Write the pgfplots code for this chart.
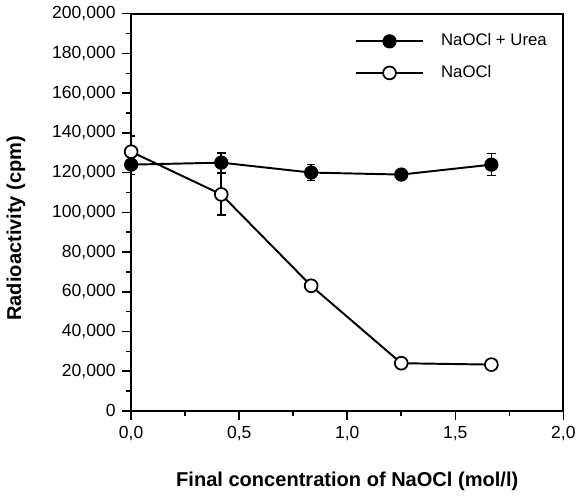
\documentclass[border=0pt]{standalone}
\usepackage{pgfplots}
\pgfplotsset{compat=1.18}
\usepackage{fontspec}
\setmainfont{Liberation Sans}

\begin{document}
\begin{tikzpicture}
\begin{axis}[
    scale only axis,
    width=222pt, height=204pt,
    xmin=0, xmax=2, ymin=0, ymax=200000,
    xtick={0,0.5,1,1.5,2},
    ytick={0,20000,...,200000},
    minor x tick num=1, minor y tick num=1,
    xtick pos=bottom, ytick pos=left,
    tick align=outside,
    major tick length=4.5pt, minor tick length=2.5pt,
    scaled y ticks=false,
    axis line style={line width=1pt},
    every tick/.style={line width=0.8pt, black},
    tick label style={font=\fontsize{9}{10}\selectfont},
    /pgf/number format/assume math mode=true,
    xticklabel style={/pgf/number format/.cd, fixed, fixed zerofill, precision=1, use comma},
    yticklabel style={/pgf/number format/.cd, fixed, precision=0, 1000 sep={,}},
    xlabel={\bfseries Final concentration of NaOCl (mol/l)},
    ylabel={\bfseries Radioactivity (cpm)},
    label style={font=\fontsize{10.3}{12}\selectfont},
    xlabel style={at={(ticklabel cs:0.5)}},
    xlabel shift=9pt,
    ylabel style={at={(ticklabel cs:0.46)}},
    ylabel shift=7pt,
    legend style={draw=none, fill=none, at={(0.985,0.97)}, anchor=north east,
        font=\fontsize{8.6}{10}\selectfont, row sep=4.5pt,
        /tikz/every odd column/.append style={column sep=7pt}},
    legend cell align=left,
    legend image code/.code={
        \draw[#1, line width=1pt, mark repeat=2, mark phase=2] plot coordinates {(0pt,0pt) (17pt,0pt) (34pt,0pt)};
    },
    error bars/error bar style={line width=0.8pt},
    error bars/error mark options={rotate=90, mark size=2.2pt, line width=0.8pt},
]
% error bars first, so the marks sit on top of them
\addplot[draw=none, forget plot, error bars/.cd, y dir=both, y explicit]
coordinates {
    (0,124000) +- (0,5000)
    (0.417,125000) +- (0,5000)
    (0.833,120000) +- (0,4000)
    (1.25,119000) +- (0,2000)
    (1.667,124000) +- (0,5500)
};
\addplot[draw=none, forget plot, error bars/.cd, y dir=both, y explicit]
coordinates {
    (0,130500) +- (0,8000)
    (0.417,109000) +- (0,10500)
    (0.833,63000) +- (0,2000)
    (1.25,24000) +- (0,1500)
    (1.667,23300) +- (0,2500)
};
% NaOCl + Urea
\addplot[black, line width=1pt, mark=*, mark size=3.3pt,
    mark options={fill=black, line width=0.7pt}]
coordinates {
    (0,124000) (0.417,125000) (0.833,120000) (1.25,119000) (1.667,124000)
};
\addlegendentry{NaOCl + Urea}
% NaOCl
\addplot[black, line width=1pt, mark=*, mark size=3.3pt,
    mark options={fill=white, line width=0.9pt}]
coordinates {
    (0,130500) (0.417,109000) (0.833,63000) (1.25,24000) (1.667,23300)
};
\addlegendentry{NaOCl}
\end{axis}
\end{tikzpicture}
\end{document}
